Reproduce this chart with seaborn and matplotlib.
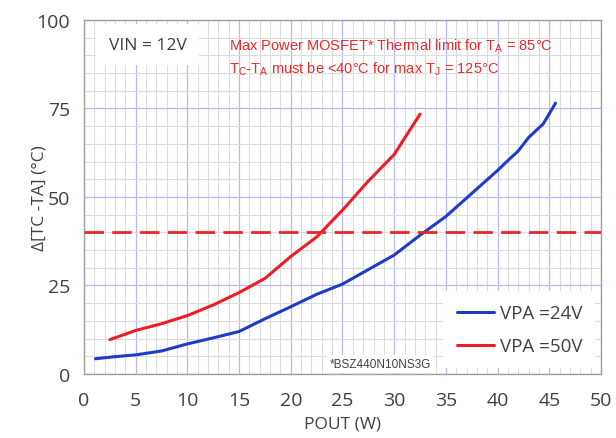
import numpy as np
import matplotlib.pyplot as plt
import seaborn as sns
import pandas as pd
from matplotlib.ticker import MultipleLocator

# data
pout_24v = [1.1, 3, 5, 7.5, 10, 12.5, 15, 17.5, 20, 22.5, 25, 27.5, 30,
            32.5, 35, 37.5, 40, 41, 42, 43, 44.4, 45, 45.6]
dt_24v = [4.3, 4.9, 5.4, 6.5, 8.5, 10.2, 12.0, 15.6, 19.0, 22.5, 25.4, 29.5,
          33.6, 39.2, 44.5, 51.0, 57.5, 60.3, 63.0, 66.8, 70.6, 73.5, 76.5]
pout_50v = [2.5, 5, 7.5, 10, 12.5, 15, 17.5, 20, 22.5, 25, 27.5, 30, 32.5]
dt_50v = [9.7, 12.3, 14.2, 16.5, 19.5, 23.0, 27.0, 33.2, 38.7, 46.3, 54.5,
          62.0, 73.4]
series_labels = ['VPA =24V', 'VPA =50V']
limit_dt = 40

df = pd.concat([
    pd.DataFrame({'POUT': pout_24v, 'dT': dt_24v, 'series': series_labels[0]}),
    pd.DataFrame({'POUT': pout_50v, 'dT': dt_50v, 'series': series_labels[1]}),
])

sns.set_style('white')
plt.rcParams['font.family'] = ['Open Sans', 'DejaVu Sans']

fig = plt.figure(figsize=(6.16, 4.39), dpi=100)
ax = fig.add_axes([0.1364, 0.1458, 0.8392, 0.8064])

sns.lineplot(data=df, x='POUT', y='dT', hue='series', sort=False,
             palette=['#1e3cc8', '#ee1c24'], linewidth=2.2, ax=ax,
             estimator=None)

ax.axhline(limit_dt, color='#e8262a', linewidth=2, dashes=(7, 3), zorder=3)

ax.set_xlim(0, 50)
ax.set_ylim(0, 100)
ax.xaxis.set_major_locator(MultipleLocator(5))
ax.xaxis.set_minor_locator(MultipleLocator(1))
ax.yaxis.set_major_locator(MultipleLocator(25))
ax.yaxis.set_minor_locator(MultipleLocator(5))
ax.grid(which='minor', color='#dcdcdc', linewidth=0.8, zorder=0)
ax.grid(which='major', color='#b8b8f4', linewidth=0.9, zorder=0)
ax.set_axisbelow(True)
ax.tick_params(which='both', length=0, labelsize=14, labelcolor='#404040')
ax.tick_params(axis='x', pad=12)
ax.tick_params(axis='y', pad=10)
for s in ax.spines.values():
    s.set_color('#a0a0a0')
    s.set_linewidth(1)

ax.set_xlabel('POUT (W)', fontsize=12.5, color='#404040')
ax.set_ylabel('Δ[TC -TA] (°C)', fontsize=12.5, color='#404040')
ax.xaxis.set_label_coords(0.5, -0.118)
ax.yaxis.set_label_coords(-0.07, 0.5)

ax.text(2.4, 93, 'VIN = 12V', fontsize=12.5, color='#404040', va='center',
        bbox=dict(facecolor='white', edgecolor='none', pad=9))
red_font = ['Liberation Sans', 'DejaVu Sans']
ax.text(14, 93, 'Max Power MOSFET* Thermal limit for T$_\\mathregular{A}$ = 85°C',
        fontsize=10.5, color='#ee2a2a', va='center', family=red_font)
ax.text(14, 86.5, 'T$_\\mathregular{C}$-T$_\\mathregular{A}$ must be <40°C for max T$_\\mathregular{J}$ = 125°C',
        fontsize=10.5, color='#ee2a2a', va='center', family=red_font)
ax.text(23.8, 2.8, '*BSZ440N10NS3G', fontsize=8.5, color='#404040', va='center',
        family=red_font, bbox=dict(facecolor='white', edgecolor='none', pad=2))

leg = ax.legend(loc='lower right', fontsize=13.5, frameon=True, fancybox=False,
                handlelength=2.0, handletextpad=0.3, labelspacing=0.8,
                borderaxespad=0.3, borderpad=0.7)
leg.get_frame().set_facecolor('white')
leg.get_frame().set_edgecolor('none')
leg.get_frame().set_alpha(1)
for t in leg.get_texts():
    t.set_color('#404040')

plt.savefig('out.png', dpi=100, facecolor='white')
